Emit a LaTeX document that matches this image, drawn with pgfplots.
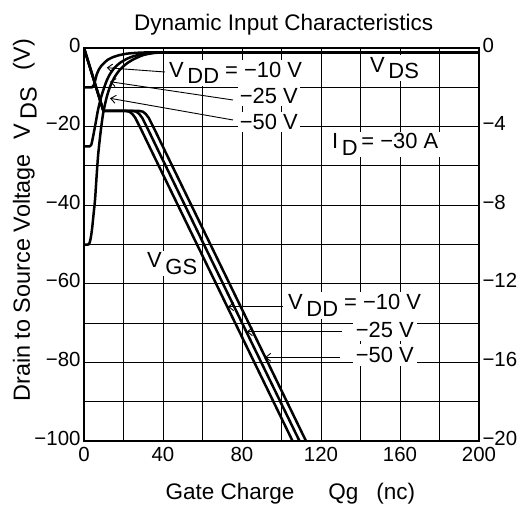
\documentclass[border=0pt]{standalone}
\usepackage{fontspec}
\setmainfont{Liberation Sans}
\usepackage{pgfplots}
\pgfplotsset{compat=1.18}
\usetikzlibrary{arrows.meta}
\newcommand{\sub}[1]{\,\raisebox{-0.28em}{#1}}
\newcommand{\lbl}{\fontsize{22}{26}\selectfont}
\newcommand{\ttl}{\fontsize{22.6}{27}\selectfont}

\begin{document}
\begin{tikzpicture}
\pgfplotsset{every axis/.append style={scale only axis, width=395bp, height=393bp, at={(0,0)}, anchor=south west,
  xmin=0, xmax=200, major tick length=0pt, axis line style={line width=1.3bp},
  tick label style={font=\fontsize{20.5}{24}\selectfont},
  yticklabel style={yshift=3bp}, xticklabel style={yshift=-3bp}, clip=true}}
\useasboundingbox (-84bp,-65bp) rectangle (438bp,441bp);

\begin{axis}[
  ymin=-100, ymax=0,
  xtick={0,20,...,200}, xticklabels={0,,40,,80,,120,,160,,200},
  ytick={-100,-90,...,0}, yticklabels={−100,,−80,,−60,,−40,,−20,,0},
  grid=major, major grid style={black, line width=0.9bp},
]
% V_DS, V_DD = -10 V
\addplot[black, line width=2.5bp, smooth, tension=0.4] coordinates {
 (0,-10) (4,-10) (4.8,-9.6) (5.5,-8.6) (6.4,-6.8) (7.5,-5.5) (8.7,-4.6) (10,-3.9)
 (12,-3.0) (14.8,-2.3) (18,-1.8) (21.6,-1.45) (26,-1.25) (30,-1.15) (35,-1.1) (40,-1.1)};
% V_DS, V_DD = -25 V
\addplot[black, line width=2.5bp, smooth, tension=0.4] coordinates {
 (0,-25) (3,-25) (3.7,-24.6) (4.3,-23.3) (5,-21.5) (6,-18.8) (7,-16) (8.5,-12.8)
 (10,-10.4) (11.5,-8.3) (13.2,-6.6) (15.5,-5.0) (18.2,-3.8) (21.5,-2.8) (25,-2.1)
 (30,-1.5) (35,-1.2) (40,-1.1)};
% V_DS, V_DD = -50 V
\addplot[black, line width=2.5bp, smooth, tension=0.4] coordinates {
 (0,-50) (2.2,-50) (3,-49.3) (3.6,-47.8) (4.2,-45.5) (4.8,-42.5) (5.6,-38.5) (6.4,-32.5)
 (7.2,-27) (8.5,-21) (9.8,-16.3) (11.5,-12.5) (13.2,-9.8) (15.5,-7.4) (18.2,-5.5)
 (21.5,-4.0) (25,-2.9) (30,-1.8) (35,-1.3) (40,-1.1)};
% common on-state tail
\addplot[black, line width=2.5bp] coordinates {(39,-1.1) (200,-1.1)};
\end{axis}

\begin{axis}[
  ymin=-20, ymax=0,
  xtick=\empty, yticklabel pos=right,
  ytick={-20,-16,...,0}, yticklabels={−20,−16,−12,−8,−4,0},
]
% V_GS, V_DD = -10 V
\addplot[black, line width=2.5bp] coordinates {
 (0,0) (9.8,-3.2) (21,-3.2) (23,-3.24) (24.5,-3.36) (26,-3.56) (27.5,-3.86) (29,-4.16)
 (34,-5.2) (105.6,-20)};
% V_GS, V_DD = -25 V
\addplot[black, line width=2.5bp] coordinates {
 (0,0) (9.8,-3.2) (24.5,-3.2) (26.5,-3.24) (28,-3.36) (29.5,-3.56) (31,-3.86) (32.5,-4.16)
 (37.5,-5.2) (109.1,-20)};
% V_GS, V_DD = -50 V
\addplot[black, line width=2.5bp] coordinates {
 (0,0) (9.8,-3.2) (27.8,-3.2) (29.8,-3.24) (31.3,-3.36) (32.8,-3.56) (34.3,-3.86) (35.8,-4.16)
 (40.8,-5.2) (112.4,-20)};
\end{axis}

% titles and labels
\node[anchor=base, font=\ttl] at (199.7bp,410.3bp) {Dynamic Input Characteristics};
\node[anchor=base west, font=\ttl] at (78bp,-58bp) {Gate Charge\hspace{34bp}Qg\hspace{18bp}(nc)};
\node[rotate=90, anchor=base west, font=\fontsize{23.5}{28}\selectfont] at (-54bp,36bp) {Drain to Source Voltage\hspace{15bp}V\sub{DS}\hspace{17bp}(V)};

% upper annotations
\draw[line width=0.9bp, -{Straight Barb[length=5bp,width=8bp]}] (81bp,369bp) -- (22.7bp,373.3bp);
\draw[line width=0.9bp, -{Straight Barb[length=5bp,width=8bp]}] (149bp,341bp) -- (26bp,359.3bp);
\draw[line width=0.9bp, -{Straight Barb[length=5bp,width=8bp]}] (149bp,321bp) -- (26bp,342.7bp);
\node[anchor=base west, fill=white, inner sep=2bp, font=\lbl] at (83bp,363.5bp) {V\sub{DD} = −10 V};
\node[anchor=base east, fill=white, inner sep=2bp, font=\lbl] at (216bp,337.7bp) {−25 V};
\node[anchor=base east, fill=white, inner sep=2bp, font=\lbl] at (216bp,311.7bp) {−50 V};
\node[anchor=base west, fill=white, inner sep=2bp, font=\lbl] at (284bp,368.7bp) {V\sub{DS}};
\node[anchor=base west, fill=white, inner sep=2bp, font=\lbl] at (246bp,292bp) {I\sub{D}\,= −30 A};
\node[anchor=base west, fill=white, inner sep=2bp, font=\lbl] at (61bp,173bp) {V\sub{GS}};

% lower annotations
\node[anchor=base west, fill=white, inner sep=3bp, font=\lbl] at (201bp,131bp) {V\sub{DD} = −10 V};
\node[anchor=base east, fill=white, inner sep=3bp, font=\lbl] at (333bp,103.7bp) {−25 V};
\node[anchor=base east, fill=white, inner sep=3bp, font=\lbl] at (333bp,78.7bp) {−50 V};
\draw[line width=0.9bp, -{Straight Barb[length=5bp,width=8bp]}] (199bp,134.3bp) -- (144bp,134.3bp);
\draw[line width=0.9bp, -{Straight Barb[length=5bp,width=8bp]}] (257.7bp,109.3bp) -- (162.7bp,109.3bp);
\draw[line width=0.9bp, -{Straight Barb[length=5bp,width=8bp]}] (256bp,83.7bp) -- (181bp,83.7bp);
\end{tikzpicture}
\end{document}
